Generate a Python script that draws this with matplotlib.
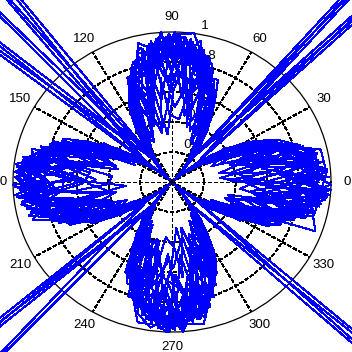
import matplotlib
matplotlib.use('Agg')
import matplotlib.pyplot as plt
import numpy as np

# traced samples: theta in degrees, rho in hundredths (one list pair per sweep)
theta_1 = [0,7,12,17,24,30,36,42,48,54,60,66,73,78,83, 91,96,103,108,114,120,126,132,138,144,150,156,161,168,175,
           181,186,191,198,204,210,216,222,228,234,240,246,253,258,264, 269,276,283,288,294,300,306,312,318,324,330,336,342,349,354]
rho_1 = [96,90,82,72,62,47,29,9,10,30,48,64,77,84,92, 95,88,95,74,63,48,30,10,9,30,47,62,78,80,97,
         90,94,84,76,65,49,29,10,11,29,48,63,73,86,93, 98,85,89,75,64,46,30,9,10,31,46,66,74,88,91]

theta_2 = [3,9,16,21,27,33,39,44,51,57,63,69,76,81,87, 92,99,105,110,117,123,129,130,141,147,153,159,165,172,178,
           184,189,195,202,207,213,219,220,231,237,243,249,254,261,267, 273,280,285,290,297,303,309,315,321,327,333,339,346,351,356]
rho_2 = [88,93,79,70,57,40,20,250,21,40,57,70,80,92,86, 97,84,78,72,57,40,21,250,20,41,58,72,79,94,90,
         85,96,80,69,58,39,21,250,20,40,58,71,84,89,95, 92,87,83,73,56,41,20,2,22,40,57,73,78,93,88]

theta_3 = [1,5,13,18,23,30,36,42,48,54,60,67,71,79,85, 89,97,101,109,114,120,126,132,138,144,150,157,163,167,174,
           179,187,193,197,205,210,216,222,228,234,240,245,251,259,266, 271,275,282,289,294,300,306,312,318,324,330,335,341,348,353]
rho_3 = [92,97,96,78,59,46,28,11,9,29,46,60,79,82,95, 89,93,80,79,61,47,29,9,11,28,49,60,71,87,94,
         97,84,88,70,61,45,31,9,10,28,47,66,76,84,88, 93,95,97,71,62,48,28,11,9,30,45,61,76,80,97]

theta_4 = [4,10,14,22,26,33,39,49,51,57,63,68,75,82,86, 93,98,104,111,116,123,129,140,141,147,153,158,164,171,177,
           183,190,196,201,208,213,219,225,231,237,243,248,255,260,268, 272,279,286,291,296,303,309,317,321,327,333,338,345,352,357]
rho_4 = [85,90,88,68,58,40,21,250,21,41,58,68,82,87,97, 90,86,89,66,59,41,20,250,21,40,57,66,83,88,84,
         96,81,91,70,55,40,21,2,20,41,56,68,81,92,83, 86,91,79,74,59,40,22,250,21,40,56,70,84,86,92]

theta_5 = [359,6,11,19,24,30,36,42,48,54,60,65,72,77,84, 91,95,102,107,114,120,126,132,138,144,150,155,162,169,173,
           182,185,192,199,204,210,216,222,228,234,240,247,252,257,265, 268,277,281,290,293,300,306,312,318,324,330,337,342,347,356]
rho_5 = [100,82,87,71,64,49,30,10,10,31,49,65,70,90,89, 84,96,86,72,64,50,31,10,10,29,48,65,76,82,99,
         86,99,79,80,66,47,30,10,9,31,49,61,80,96,96, 100,83,93,72,67,49,29,10,10,29,49,62,70,91,87]

theta_6 = [2,9,15,20,28,33,39,43,51,57,63,70,74,80,88, 94,100,106,112,118,123,129,134,141,147,153,160,166,170,178,
           185,191,194,203,209,213,219,227,231,237,243,250,256,262,266, 274,278,284,292,298,303,309,315,321,327,333,340,344,350,358]
rho_6 = [94,84,80,74,52,41,20,250,21,40,59,63,86,80,98, 93,89,76,75,52,41,21,250,21,41,59,62,85,93,96,
         89,82,93,64,52,40,20,250,21,40,58,62,80,91,98, 87,92,89,64,51,41,21,2,20,41,59,61,87,90,95]

theta_7 = [2,8,12,16,25,30,36,42,48,54,60,66,74,78,82, 88,98,104,108,113,120,126,132,138,144,150,156,164,166,176,
           178,184,189,196,203,210,216,222,228,234,240,244,254,256,262, 272,278,284,286,295,300,306,312,318,324,330,334,343,346,352]
rho_7 = [78,91,93,82,58,48,30,10,10,30,47,66,70,88,100, 99,80,77,81,67,49,30,10,10,30,49,66,67,91,84,
         99,88,94,82,57,48,31,10,10,30,48,67,70,90,98, 88,84,79,82,58,49,30,10,10,30,48,67,81,92,93]

theta_8 = [5,11,17,23,27,33,39,48,51,57,63,69,77,79,89, 91,101,107,113,115,123,129,142,141,147,153,161,167,173,179,
           181,188,197,204,206,213,219,225,231,237,243,251,257,263,269, 275,281,287,293,295,303,309,319,321,327,333,341,347,353,355]
rho_8 = [98,79,84,72,59,41,21,250,20,41,58,73,76,96,80, 99,78,84,69,59,40,21,250,21,40,57,73,70,95,79,
         100,85,77,70,58,41,21,2,21,41,57,71,74,93,82, 96,80,82,69,58,40,20,250,21,40,58,70,78,86,99]

theta_9 = [1,4,14,18,22,30,36,42,48,54,60,68,72,76,86, 92,94,100,110,112,120,126,132,138,144,150,158,160,170,172,
           180,186,194,198,202,210,216,222,228,234,240,248,250,260,264, 270,274,286,288,292,300,306,312,318,324,330,338,340,350,354]
rho_9 = [82,98,72,80,70,49,31,10,10,31,50,59,82,86,83, 90,100,78,70,71,49,31,10,10,31,50,58,79,85,94,
         80,92,72,79,72,50,31,10,10,31,50,59,81,83,93, 82,100,70,80,71,50,31,10,10,31,50,58,96,89,89]

theta_10 = [7,9,13,25,29,33,39,45,51,57,63,67,79,83,85, 97,99,103,115,119,123,127,128,141,147,153,157,169,173,175,
            187,189,193,205,209,213,219,221,231,237,243,247,259,263,265, 277,279,283,295,299,303,309,315,321,327,333,337,349,353,355]
rho_10 = [90,86,92,66,55,41,21,2,21,41,59,74,73,91,97, 91,84,92,64,55,41,21,250,21,41,59,74,76,90,94,
          88,84,91,63,56,41,21,250,21,41,59,73,78,90,98, 93,85,93,66,56,41,21,2,21,41,59,74,74,92,96]

theta_11 = [1,6,12,19,24,30,36,42,48,54,60,66,71,78,84, 90,97,102,108,115,120,126,132,138,144,150,156,162,167,174,
            180,186,193,198,204,210,216,222,228,234,240,246,252,259,264, 271,276,282,288,294,300,306,312,318,324,330,336,341,348,354]
rho_11 = [62,95,48,77,40,46,18,9,6,27,33,62,52,88,57, 97,55,86,44,60,28,29,7,9,20,47,38,76,49,93,
          58,94,51,75,36,48,17,10,8,30,26,63,45,87,66, 99,49,88,47,64,25,30,8,10,18,46,35,79,53,95]

theta_12 = [3,10,15,21,27,33,39,45,51,57,63,69,75,81,88, 93,99,105,111,117,123,129,135,141,147,153,159,165,171,177,
            183,189,195,201,207,213,219,225,231,237,243,249,255,261,267, 273,279,285,291,297,303,309,315,321,327,333,339,345,351,357]
rho_12 = [45,91,60,72,30,39,12,2,20,25,57,44,84,58,97, 52,93,43,71,33,40,13,2,19,38,31,72,50,92,61,
          96,50,84,40,57,22,20,2,14,40,35,71,55,93,48, 94,63,85,38,56,26,20,2,21,27,58,41,86,52,98]

theta_13 = [358,5,13,18,25,30,36,42,48,54,60,65,72,79,83, 89,96,103,109,114,120,126,132,138,144,150,157,161,168,175,
            179,185,192,199,205,210,216,222,228,234,240,245,253,257,265, 268,275,283,289,293,300,306,312,318,324,330,335,342,347,355]
rho_13 = [88,66,89,50,63,30,27,10,10,29,31,55,72,60,96, 70,96,58,80,42,49,19,9,7,31,44,66,48,90,71,
          93,70,90,55,65,33,26,10,10,22,49,40,80,62,97, 68,97,61,79,45,47,20,10,9,30,34,64,54,89,74]

theta_14 = [4,9,16,20,28,33,39,45,51,57,63,70,74,82,86, 94,98,106,110,118,123,129,135,141,147,153,160,164,172,176,
            184,188,196,200,208,213,219,225,231,237,243,250,254,262,266, 274,278,286,290,298,303,309,315,321,327,333,340,344,352,356]
rho_14 = [78,57,86,49,58,27,21,2,13,41,42,73,62,94,70, 99,71,60,73,38,41,14,2,21,29,58,49,86,66,98,
          74,94,62,73,39,40,21,2,15,41,40,74,60,95,75, 98,68,87,52,59,28,15,2,20,30,59,52,87,64,96]

theta_15 = [2,7,11,17,23,30,36,42,48,54,60,67,73,77,85, 91,95,101,107,113,120,126,132,138,144,150,155,163,169,173,
            181,187,191,197,203,210,216,222,228,234,240,247,251,258,263, 269,277,281,287,295,300,306,312,318,324,330,337,343,349,353]
rho_15 = [54,83,72,38,60,41,15,8,10,22,50,30,80,43,89, 60,84,73,39,62,43,31,10,5,31,27,67,37,82,52,
          56,86,67,41,58,44,14,9,10,23,50,31,81,40,90, 59,82,74,36,67,40,30,10,6,31,25,66,39,84,50]

theta_16 = [2,8,14,22,26,34,39,45,51,56,64,68,76,80,87, 92,100,104,112,116,122,129,135,141,148,152,158,166,170,178,
            182,190,194,202,206,214,219,225,231,236,244,248,256,260,268, 272,280,284,292,296,304,309,315,321,328,332,338,346,350,358]
rho_16 = [99,47,80,66,35,41,10,2,21,18,59,37,87,45,99, 66,92,46,74,31,33,21,2,11,41,30,73,44,95,56,
          99,44,81,68,34,39,11,2,21,19,58,36,86,47,99, 62,93,45,74,30,35,21,2,10,41,31,72,47,94,58]

theta_17 = [1,5,12,18,24,29,36,42,48,54,61,66,72,78,84, 89,96,102,108,114,121,126,132,138,144,149,156,162,168,174,
            181,186,192,198,204,209,216,222,228,234,241,246,252,258,264, 269,276,282,288,294,301,306,312,318,324,329,336,342,348,354]
rho_17 = [73,98,63,81,52,50,31,10,10,31,41,67,63,91,77, 100,76,91,60,67,37,31,10,10,25,50,51,81,68,98,
          75,98,64,81,50,50,24,10,10,31,39,67,64,91,79, 100,74,91,62,67,39,31,10,10,24,50,50,81,70,98]

theta_18 = [6,8,15,21,27,32,39,45,51,58,63,69,75,81,86, 96,98,105,111,117,122,129,135,141,148,153,159,165,171,176,
            186,188,195,201,207,212,219,225,231,238,243,249,255,261,266, 276,278,285,291,297,302,309,315,321,328,333,339,345,351,356]
rho_18 = [84,95,53,74,45,41,17,2,21,33,59,55,87,76,92, 81,95,52,74,47,41,21,2,18,41,42,74,70,95,90,
          85,95,55,74,44,41,16,2,21,34,59,56,87,75,93, 80,95,51,74,46,41,21,2,17,41,44,74,69,95,89]

theta_19 = [2,6,11,18,23,30,35,42,48,55,60,67,72,79,84, 92,96,101,108,113,120,125,132,138,145,150,157,162,169,174,
            182,186,191,198,203,210,215,222,228,235,240,247,252,259,264, 272,276,281,288,293,300,305,312,318,325,330,337,342,349,354]
rho_19 = [35,62,30,58,27,40,14,6,8,22,31,52,36,70,42, 45,70,33,60,29,38,16,8,7,25,30,50,40,68,38,
          40,66,36,56,31,42,15,7,8,24,33,49,41,72,37, 44,64,31,61,28,39,17,8,6,23,32,53,35,69,43]

theta_20 = [1,10,14,22,26,34,38,45,52,56,64,68,76,80,88, 91,100,104,112,116,124,128,135,142,146,154,158,166,170,178,
            181,190,194,202,206,214,218,225,232,236,244,248,256,260,268, 271,280,284,292,296,304,308,315,322,326,334,338,346,350,358]
rho_20 = [55,38,66,33,47,20,18,2,12,33,28,60,38,72,50, 58,36,65,31,49,22,17,2,13,34,26,61,35,74,48,
          53,39,68,34,46,19,18,2,11,32,29,58,39,70,52, 57,37,64,32,48,21,16,2,14,35,27,62,36,73,49]

theta_21 = [359,5,12,17,24,29,36,41,48,53,60,65,72,77,84, 89,95,102,107,114,119,126,131,138,143,150,155,162,167,174,
            179,185,192,197,204,209,216,221,228,233,240,245,252,257,264, 269,275,282,287,294,299,306,311,318,323,330,335,342,347,354]
rho_21 = [60,30,78,45,55,25,28,9,10,30,45,35,74,48,80, 62,32,76,47,54,27,27,10,9,29,44,34,72,50,82,
          59,29,79,44,56,26,29,9,10,31,46,36,75,47,79, 61,31,77,46,53,24,28,10,9,30,43,33,73,49,81]

theta_22 = [4,8,16,20,28,32,40,45,50,58,62,70,74,82,86, 94,98,106,110,118,122,130,135,140,148,152,160,164,172,176,
            184,188,196,200,208,212,220,225,230,238,242,250,254,262,266, 274,278,286,290,298,302,310,315,320,328,332,340,344,352,356]
rho_22 = [70,85,42,65,36,35,11,2,19,24,50,42,78,55,66, 72,83,40,66,38,34,12,2,20,23,52,43,77,57,68,
          69,86,43,64,35,36,10,2,18,25,49,41,79,54,65, 71,84,41,67,37,33,12,2,19,22,51,44,76,56,67]

theta_23 = [2,8,15,20,26,32,38,44,50,56,62,69,74,81,86, 92,99,104,110,116,122,128,134,140,146,152,159,164,171,176,
            183,188,194,201,206,212,218,224,230,236,242,248,255,260,266, 273,278,285,290,296,302,308,314,320,326,332,339,344,350,357]
rho_23 = [84,93,70,75,50,42,22,3,16,35,48,70,66,92,72, 97,68,86,60,58,40,24,3,15,36,52,60,84,70,99,
          79,95,66,76,48,43,20,3,17,30,55,67,74,93,69, 98,72,87,57,61,37,23,3,16,37,47,71,82,75,100]

theta_24 = [4,11,16,22,28,34,40,46,52,58,64,70,77,82,88, 94,101,106,112,118,124,130,136,142,148,154,160,167,172,178,
            184,191,196,202,208,214,220,226,232,238,244,250,257,262,268, 274,281,286,292,298,304,310,316,322,328,334,340,347,352,358]
rho_24 = [70,92,76,70,45,35,16,3,22,40,60,66,86,79,97, 92,74,84,58,55,30,17,3,23,42,52,76,71,95,80,
          73,93,72,71,43,36,15,3,24,38,61,64,87,82,98, 95,70,83,62,54,32,17,3,21,44,55,75,73,94,77]

theta_25 = [0,5,12,19,24,30,36,42,48,54,60,66,73,78,85, 90,95,102,109,114,120,126,132,138,144,150,156,163,168,175,
            180,185,192,199,204,210,216,222,228,234,240,246,253,258,265, 270,275,282,289,294,300,306,312,318,324,330,336,343,348,355]
rho_25 = [88,74,90,68,66,44,30,10,10,28,49,58,80,77,97, 75,97,71,80,55,50,26,10,10,31,42,67,65,90,82,
          90,76,89,66,67,45,31,10,9,27,50,57,81,75,96, 77,96,73,81,53,49,25,10,10,31,41,66,67,91,84]

ring_values = [0.2, 0.4, 0.6, 0.8, 1.0]
ring_labels = ['0.2', '0.4', '0.6', '0.8', '1']
angle_ticks = [0, 30, 60, 90, 120, 150, 180, 210, 240, 270, 300, 330]
angle_labels = ['0', '30', '60', '90', '120', '150', '180', '210', '240', '270', '300', '330']

theta = np.concatenate([theta_1, theta_2, theta_3, theta_4, theta_5, theta_6,
                        theta_7, theta_8, theta_9, theta_10, theta_11, theta_12,
                        theta_13, theta_14, theta_15, theta_16, theta_17, theta_18,
                        theta_19, theta_20, theta_21, theta_22, theta_23, theta_24, theta_25])
rho = np.concatenate([rho_1, rho_2, rho_3, rho_4, rho_5, rho_6,
                      rho_7, rho_8, rho_9, rho_10, rho_11, rho_12,
                      rho_13, rho_14, rho_15, rho_16, rho_17, rho_18,
                      rho_19, rho_20, rho_21, rho_22, rho_23, rho_24, rho_25]) / 100.0

fig = plt.figure(figsize=(3.52, 3.52), dpi=100)
fig.patch.set_facecolor('white')
ax = fig.add_axes([13/352, 20/352, 318/352, 300/352], projection='polar')
ax.set_aspect('auto')
ax.set_ylim(0, 1)

ax.set_xticks(np.deg2rad(angle_ticks))
ax.set_xticklabels([])
ax.set_yticks(ring_values[:-1])
ax.set_yticklabels([])
ax.tick_params(length=0)
ax.grid(True, color='k', linestyle=(0, (3, 2.2)), linewidth=0.72, antialiased=False)
ax.spines['polar'].set_linewidth(0.9)
ax.spines['polar'].set_color('k')

lab_font = dict(family=['Liberation Sans', 'DejaVu Sans'], fontsize=9.5, color='k')
for v, lab in zip(ring_values, ring_labels):
    ax.text(np.deg2rad(82), v + 0.01, '  ' + lab, ha='left', va='bottom', zorder=1, **lab_font)
for a, lab in zip(angle_ticks, angle_labels):
    ax.text(np.deg2rad(a), 1.1, lab, ha='center', va='center', zorder=1, **lab_font)

ax.plot(np.deg2rad(theta), rho, color='#0000ff', linewidth=0.75,
        clip_on=False, antialiased=False, zorder=5)

fig.savefig('out.png', dpi=100, facecolor='white')
